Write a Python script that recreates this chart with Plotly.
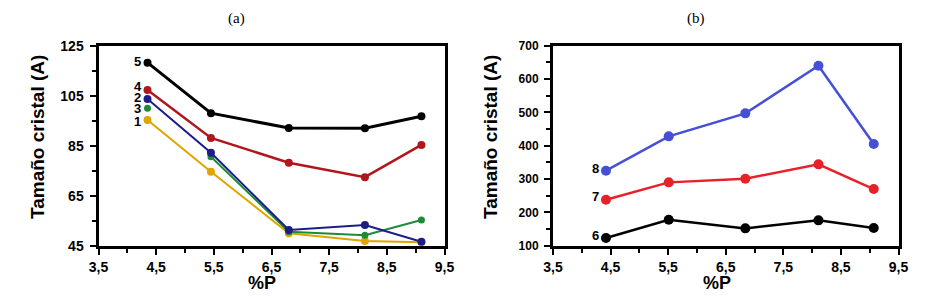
import plotly.graph_objects as go

# ---- Data panel (a) ----
xa = [4.35, 5.45, 6.8, 8.12, 9.1]
a1 = [95.3, 74.6, 50.0, 46.9, 46.4]
a2 = [103.7, 82.2, 51.3, 53.3, 46.6]
a3 = [100.0, 80.6, 50.6, 49.2, 55.3]
a4 = [107.3, 88.1, 78.2, 72.4, 85.3]
a5 = [118.2, 98.0, 92.1, 92.0, 96.8]

# ---- Data panel (b) ----
xb = [4.42, 5.51, 6.84, 8.11, 9.07]
b6 = [123, 178, 152, 176, 153]
b7 = [238, 290, 301, 344, 270]
b8 = [325, 428, 497, 640, 405]

xticks = [3.5, 4.5, 5.5, 6.5, 7.5, 8.5, 9.5]
xticktext = ["3,5", "4,5", "5,5", "6,5", "7,5", "8,5", "9,5"]

colors_a = {1: "#e0a400", 2: "#1c1c8a", 3: "#1f8a3a", 4: "#b0161c", 5: "#000000"}
colors_b = {6: "#000000", 7: "#e82128", 8: "#4650d6"}

SANS = "Arial"
W, H = 914, 292   # figure size (page body has an 8px default margin)
OFF = 8           # page offset of the figure


def px(x):
    return (x - OFF) / W


def py(y):
    return 1 - (y - OFF) / H


fig = go.Figure()


def add_series(x, y, color, xaxis, yaxis, lw=2.5, ms=8, skip_first_line=False):
    lx = x[1:] if skip_first_line else x
    ly = y[1:] if skip_first_line else y
    fig.add_trace(go.Scatter(x=lx, y=ly, mode="lines", line=dict(color=color, width=lw),
                             xaxis=xaxis, yaxis=yaxis, showlegend=False, hoverinfo="skip"))
    fig.add_trace(go.Scatter(x=x, y=y, mode="markers", marker=dict(color=color, size=ms),
                             xaxis=xaxis, yaxis=yaxis, showlegend=False))


add_series(xa, a1, colors_a[1], "x", "y", lw=2)
add_series(xa, a3, colors_a[3], "x", "y", lw=2, ms=7, skip_first_line=True)
add_series(xa, a2, colors_a[2], "x", "y", lw=2)
add_series(xa, a4, colors_a[4], "x", "y", lw=2.5)
add_series(xa, a5, colors_a[5], "x", "y", lw=3)

add_series(xb, b6, colors_b[6], "x2", "y2", lw=2.5, ms=10)
add_series(xb, b7, colors_b[7], "x2", "y2", lw=2.5, ms=10)
add_series(xb, b8, colors_b[8], "x2", "y2", lw=2.5, ms=10)

tickfont = dict(family=SANS, size=14, color="#000", weight="bold")
common_x = dict(range=[3.5, 9.5], tickvals=xticks, ticktext=xticktext, showline=True,
                linewidth=3, linecolor="#000", mirror=True, ticks="outside", ticklen=6,
                tickwidth=1.5, tickcolor="#000", showgrid=False, zeroline=False,
                tickfont=tickfont, automargin=False,
                minor=dict(tickvals=[4, 5, 6, 7, 8, 9], ticks="outside", ticklen=4,
                           tickwidth=1.5, tickcolor="#000"))
common_y = dict(showline=True, linewidth=3, linecolor="#000", mirror=True, ticks="outside",
                ticklen=6, tickwidth=1.5, tickcolor="#000", showgrid=False, zeroline=False,
                automargin=False, ticklabelstandoff=3)

fig.update_layout(
    width=W, height=H, margin=dict(l=0, r=0, t=0, b=0, autoexpand=False),
    paper_bgcolor="white", plot_bgcolor="white",
    xaxis=dict(domain=[px(98.5), px(444.5)], anchor="y", **common_x),
    yaxis=dict(domain=[py(245.7), py(45.7)], anchor="x", range=[45, 125],
               tickvals=[45, 65, 85, 105, 125], tickfont=tickfont,
               minor=dict(tickvals=[55, 75, 95, 115], ticks="outside", ticklen=4,
                          tickwidth=1.5, tickcolor="#000"), **common_y),
    xaxis2=dict(domain=[px(553), px(898.5)], anchor="y2", **common_x),
    yaxis2=dict(domain=[py(245.7), py(45.7)], anchor="x2", range=[100, 700],
                tickvals=[100, 200, 300, 400, 500, 600, 700],
                tickfont=dict(family=SANS, size=12, color="#000", weight="bold"),
                minor=dict(tickvals=[150, 250, 350, 450, 550, 650], ticks="outside", ticklen=4,
                           tickwidth=1.5, tickcolor="#000"), **common_y),
)

ann = []
labfont = dict(family=SANS, size=13, color="#000", weight="bold")
for txt, yy in [("5", 118.5), ("4", 108.6), ("2", 104.2), ("3", 100.0), ("1", 94.6)]:
    ann.append(dict(x=4.18, y=yy, xref="x", yref="y", text=txt, showarrow=False, font=labfont,
                    xanchor="center", yanchor="middle"))
for txt, yy in [("8", 333), ("7", 248), ("6", 130)]:
    ann.append(dict(x=4.24, y=yy, xref="x2", yref="y2", text=txt, showarrow=False, font=labfont,
                    xanchor="center", yanchor="middle"))

serif = dict(family="Times New Roman", size=15, color="#000")
titlefont = dict(family=SANS, size=19, color="#000", weight="bold")
pfont = dict(family=SANS, size=18, color="#000", weight="bold")
paper_texts = [
    ("(a)", 236, 18, serif, 0),
    ("(b)", 696, 18, serif, 0),
    ("Tamaño cristal (A)", 37, 137, titlefont, -90),
    ("Tamaño cristal (A)", 490, 137, titlefont, -90),
    ("%P", 262, 283, pfont, 0),
    ("%P", 717, 283, pfont, 0),
]
for txt, xx, yy, f, ang in paper_texts:
    ann.append(dict(x=px(xx), y=py(yy), xref="paper", yref="paper", text=txt, textangle=ang,
                    showarrow=False, font=f, xanchor="center", yanchor="middle"))
fig.update_layout(annotations=ann)

fig.write_html("out.html")
